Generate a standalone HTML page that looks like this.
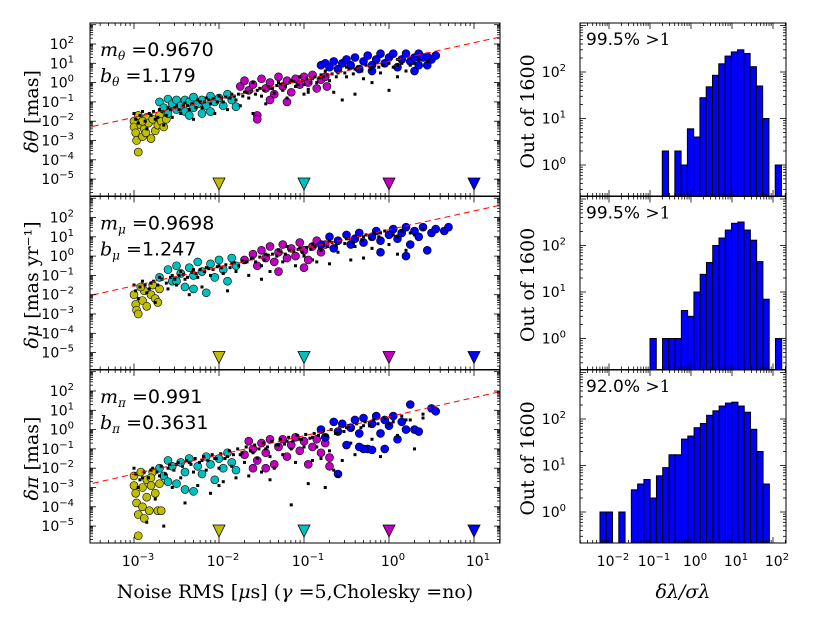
<!DOCTYPE html>
<html><head><meta charset="utf-8"><style>
body{margin:0;background:#fff}
svg{display:block}
text{font-family:"DejaVu Sans","Liberation Sans",sans-serif}
.serif{font-family:"DejaVu Serif","Liberation Serif",serif}
</style></head><body>
<svg id="fig" width="817" height="617" viewBox="0 0 817 617" xmlns="http://www.w3.org/2000/svg"></svg>
<script>
// ---------- data (log10 units) ----------
const fitSlopes = [0.9670, 0.9698, 0.991];
const fitLabels = ["0.9670", "0.9698", "0.991"];
const fitOffsets = ["1.179", "1.247", "0.3631"];
const lineIntercepts = [1.10, 1.37, 0.67];
const markerX = [-2, -1, 0, 1];
const yTickExp = [2, 1, 0, -1, -2, -3, -4, -5];
const xTickExp = [-3, -2, -1, 0, 1];
const histXTickExp = [-2, -1, 0, 1, 2];
const histYTickExp = [0, 1, 2];
const histPct = ["99.5%", "99.5%", "92.0%"];

const thetaYellow = [[-3.0,-2.0],[-3.0,-2.3],[-2.98,-2.6],[-2.97,-3.0],[-2.95,-3.6],[-2.9,-2.8],[-2.92,-2.2],[-2.85,-1.8],[-2.88,-2.4],[-2.8,-2.9],[-2.83,-2.1],[-2.78,-1.9],[-2.75,-2.5],[-2.72,-2.2],[-2.7,-1.7],[-2.68,-2.0],[-2.65,-2.3],[-2.62,-1.9],[-2.95,-1.7],[-2.9,-2.0],[-2.86,-2.6]];
const thetaCyan = [[-2.7,-1.0],[-2.65,-1.3],[-2.6,-0.85],[-2.55,-1.1],[-2.5,-1.4],[-2.5,-0.9],[-2.45,-1.2],[-2.4,-0.9],[-2.4,-1.5],[-2.35,-1.0],[-2.3,-1.3],[-2.3,-0.75],[-2.25,-1.1],[-2.2,-1.6],[-2.2,-0.9],[-2.15,-1.2],[-2.1,-0.7],[-2.1,-1.5],[-2.05,-1.0],[-2.0,-0.8],[-1.95,-1.2],[-1.9,-0.6],[-1.85,-0.9],[-1.8,-1.25],[-2.6,-1.6],[-2.35,-1.7]];
const thetaMagenta = [[-1.75,-0.2],[-1.7,0.1],[-1.65,-0.4],[-1.6,-0.1],[-1.5,0.2],[-1.45,-0.3],[-1.4,0.0],[-1.35,-0.6],[-1.3,0.3],[-1.25,-0.2],[-1.2,0.1],[-1.15,-0.5],[-1.1,0.2],[-1.05,-0.1],[-1.0,0.3],[-0.95,0.0],[-0.9,0.4],[-0.85,-0.3],[-0.8,0.15],[-0.75,0.3],[-1.4,-0.9],[-1.2,-1.0],[-1.55,-1.7],[-1.55,-1.9],[-0.73,-0.2]];
const thetaBlue = [[-0.8,0.9],[-0.75,1.0],[-0.7,0.8],[-0.65,1.1],[-0.6,0.7],[-0.55,1.0],[-0.5,1.2],[-0.45,0.9],[-0.4,1.3],[-0.35,0.7],[-0.3,1.1],[-0.25,1.4],[-0.2,0.9],[-0.15,1.2],[-0.1,1.5],[-0.05,1.0],[0.0,1.3],[0.05,1.5],[0.1,0.8],[0.15,1.2],[0.2,1.5],[0.25,1.1],[0.3,1.3],[0.35,1.5],[0.3,0.6],[0.35,0.9],[0.4,1.3],[0.5,1.2],[0.45,0.9],[0.55,1.4],[0.45,1.35],[-0.2,0.6]];
const thetaBlack = [[-3.0,-1.6],[-2.95,-2.1],[-2.9,-1.5],[-2.85,-2.4],[-2.8,-1.7],[-2.75,-1.9],[-2.7,-1.4],[-2.65,-2.2],[-2.6,-1.3],[-2.55,-1.8],[-2.5,-1.2],[-2.45,-1.6],[-2.4,-1.05],[-2.35,-1.4],[-2.3,-1.9],[-2.25,-0.9],[-2.2,-1.3],[-2.15,-0.8],[-2.1,-1.1],[-2.05,-1.6],[-2.0,-0.7],[-1.95,-1.0],[-1.9,-1.4],[-1.85,-0.6],[-1.8,-0.9],[-1.75,-1.2],[-1.7,-0.5],[-1.65,-0.8],[-1.6,-1.6],[-1.55,-0.4],[-1.5,-0.7],[-1.45,-1.1],[-1.4,-0.3],[-1.35,-0.55],[-1.3,0.0],[-1.25,-0.4],[-1.2,-0.8],[-1.15,0.1],[-1.1,-0.2],[-1.05,0.3],[-1.0,-0.1],[-0.95,-0.5],[-0.9,0.2],[-0.85,0.0],[-0.8,0.4],[-0.75,0.6],[-0.7,0.1],[-0.65,-0.5],[-0.6,0.5],[-0.55,-0.9],[-0.5,0.3],[-0.4,0.7],[-0.3,0.2],[-0.2,0.8],[-0.1,0.5],[0.0,-0.4],[0.1,0.9],[0.2,0.6],[0.3,1.0],[-0.2,0.0],[-1.0,-0.6],[-1.6,0.0],[0.1,1.2],[-0.5,0.8],
[-2.98,-1.9],[-2.93,-1.7],[-2.87,-2.0],[-2.82,-1.6],[-2.77,-1.5],[-2.72,-1.8],[-2.67,-1.5],[-2.62,-1.7],[-2.57,-1.4],[-2.52,-1.3],[-2.47,-1.4],[-2.42,-1.2],[-2.37,-1.2],[-2.32,-1.1],[-2.27,-1.3],[-2.22,-1.0],[-2.17,-1.0],[-2.12,-0.9],[-2.07,-0.85],[-2.02,-1.0],[-1.97,-0.8],[-1.92,-0.75],[-1.87,-0.8],[-1.82,-0.7],[-1.77,-0.6],[-1.72,-0.7],[-1.67,-0.5],[-1.62,-0.45],[-1.57,-0.6],[-1.52,-0.3],[-1.47,-0.4],[-1.42,-0.2],[-1.37,-0.3],[-1.32,-0.15],[-1.27,-0.1],[-1.22,-0.2],[-1.17,0.0],[-1.12,0.05],[-1.07,-0.1],[-1.02,0.1],[-0.97,0.2],[-0.92,0.0],[-0.87,0.3],[-0.82,0.25],[-0.77,0.3],[-0.72,0.4],[-0.67,0.45],[-0.62,0.3],[-0.57,0.6],[-0.52,0.5],[-0.47,0.7],[-0.42,0.45],[-0.37,0.8],[-0.32,0.6],[-0.27,0.9],[-0.22,0.7],[-0.17,1.0],[-0.12,0.8],[-0.07,0.9],[0.0,1.0],[0.05,0.8],[0.15,1.0],[0.25,0.9],[0.35,1.2],[0.45,1.1],[-0.95,-0.35],[-0.4,-0.6],[0.1,0.3]];

const muYellow = [[-3.0,-2.0],[-2.98,-2.5],[-2.97,-2.8],[-2.95,-3.0],[-2.9,-2.3],[-2.88,-1.8],[-2.85,-2.6],[-2.8,-2.0],[-2.78,-1.5],[-2.75,-2.2],[-2.7,-1.7],[-2.72,-2.4],[-2.92,-1.6]];
const muCyan = [[-2.7,-1.1],[-2.6,-0.7],[-2.55,-1.3],[-2.5,-0.5],[-2.45,-0.9],[-2.4,-1.6],[-2.35,-0.6],[-2.3,-1.0],[-2.25,-0.3],[-2.2,-0.8],[-2.15,-1.9],[-2.1,-0.4],[-2.05,-1.1],[-2.0,-0.2],[-1.95,-0.7],[-1.9,-1.3],[-1.85,-0.1],[-1.8,-0.5],[-2.3,-1.7],[-2.5,-1.3]];
const muMagenta = [[-1.7,-0.2],[-1.6,0.1],[-1.55,-0.5],[-1.5,0.3],[-1.45,-0.1],[-1.4,0.5],[-1.35,-0.3],[-1.3,0.2],[-1.25,0.6],[-1.2,-0.1],[-1.15,0.4],[-1.1,0.0],[-1.05,0.7],[-1.0,0.3],[-0.95,-0.2],[-0.9,0.5],[-0.85,0.8],[-0.8,0.2],[-0.75,0.6],[-1.3,-0.8],[-1.0,-0.6]];
const muBlue = [[-0.8,0.6],[-0.7,1.0],[-0.65,0.4],[-0.6,0.8],[-0.5,1.1],[-0.45,0.6],[-0.4,0.9],[-0.35,1.2],[-0.3,0.7],[-0.2,1.0],[-0.15,1.3],[-0.1,0.8],[0.0,1.1],[0.05,1.4],[0.1,0.9],[0.15,1.2],[0.2,1.5],[0.25,0.6],[0.3,1.3],[0.35,1.0],[0.4,1.5],[0.45,0.3],[0.5,1.2],[0.55,1.4],[0.65,1.3],[0.7,1.5],[-0.1,0.2],[0.2,0.0]];
const muBlack = [[-3.0,-1.5],[-2.95,-2.2],[-2.9,-1.3],[-2.85,-1.9],[-2.8,-1.4],[-2.75,-2.4],[-2.7,-1.1],[-2.6,-1.7],[-2.55,-1.0],[-2.5,-1.5],[-2.45,-0.8],[-2.4,-1.2],[-2.35,-2.0],[-2.3,-0.7],[-2.25,-1.1],[-2.2,-1.6],[-2.15,-0.6],[-2.1,-1.0],[-2.0,-0.5],[-1.95,-0.9],[-1.9,-1.8],[-1.85,-0.4],[-1.8,-0.8],[-1.7,-0.3],[-1.65,-1.0],[-1.6,-0.1],[-1.5,-0.5],[-1.45,0.1],[-1.4,-0.8],[-1.3,0.3],[-1.25,-0.3],[-1.2,0.5],[-1.1,-0.5],[-1.05,0.4],[-1.0,0.0],[-0.9,0.6],[-0.85,-0.3],[-0.8,0.3],[-0.7,0.8],[-0.6,0.2],[-0.5,0.9],[-0.45,-0.2],[-0.4,0.5],[-0.3,1.0],[-0.2,0.4],[-0.1,1.2],[0.0,0.6],[0.1,1.0],[0.2,0.3],[0.3,1.1],[-0.7,-0.4],[-1.5,-1.2],
[-2.98,-1.8],[-2.93,-1.6],[-2.87,-1.5],[-2.82,-1.7],[-2.77,-1.3],[-2.72,-1.5],[-2.67,-1.2],[-2.62,-1.4],[-2.57,-1.1],[-2.52,-1.2],[-2.47,-1.0],[-2.42,-0.95],[-2.37,-1.1],[-2.32,-0.85],[-2.27,-0.9],[-2.22,-0.7],[-2.17,-0.8],[-2.12,-0.65],[-2.07,-0.7],[-2.02,-0.55],[-1.97,-0.6],[-1.92,-0.45],[-1.87,-0.6],[-1.82,-0.35],[-1.77,-0.5],[-1.72,-0.25],[-1.67,-0.3],[-1.62,-0.15],[-1.57,-0.3],[-1.52,-0.05],[-1.47,-0.2],[-1.42,0.05],[-1.37,0.1],[-1.32,0.0],[-1.27,0.2],[-1.22,0.1],[-1.17,0.3],[-1.12,0.25],[-1.07,0.35],[-1.02,0.2],[-0.97,0.45],[-0.92,0.35],[-0.87,0.5],[-0.82,0.4],[-0.77,0.6],[-0.72,0.5],[-0.67,0.7],[-0.62,0.55],[-0.57,0.8],[-0.52,0.65],[-0.47,0.9],[-0.42,0.7],[-0.37,1.0],[-0.32,0.85],[-0.27,1.1],[-0.22,0.9],[-0.17,1.2],[-0.12,1.0],[-0.05,1.3],[0.05,1.1],[0.15,1.3],[0.25,1.2],[0.4,1.4],[-0.9,-0.2],[-0.3,-0.1],[0.1,0.1]];

const piYellow = [[-3.0,-2.4],[-3.0,-2.9],[-2.98,-3.3],[-2.97,-3.8],[-2.95,-4.4],[-2.95,-5.5],[-2.92,-2.2],[-2.9,-3.0],[-2.9,-4.0],[-2.88,-4.6],[-2.85,-2.6],[-2.85,-3.5],[-2.82,-4.2],[-2.8,-2.9],[-2.78,-2.2],[-2.75,-3.3],[-2.72,-4.2],[-2.7,-2.8],[-2.68,-4.2],[-2.8,-2.5]];
const piCyan = [[-2.7,-2.0],[-2.65,-2.4],[-2.6,-1.6],[-2.55,-1.9],[-2.5,-2.8],[-2.45,-1.7],[-2.4,-2.2],[-2.35,-1.5],[-2.3,-3.2],[-2.25,-1.9],[-2.2,-2.3],[-2.15,-1.4],[-2.1,-1.8],[-2.05,-2.6],[-2.0,-1.5],[-1.95,-2.0],[-1.9,-1.2],[-1.85,-1.7],[-1.8,-2.1],[-2.4,-3.1],[-2.6,-2.7]];
const piMagenta = [[-1.7,-1.3],[-1.65,-0.6],[-1.6,-1.0],[-1.55,-1.6],[-1.5,-0.7],[-1.45,-1.2],[-1.4,-0.5],[-1.35,-1.8],[-1.3,-0.9],[-1.25,-0.5],[-1.2,-1.4],[-1.15,-0.8],[-1.1,-0.4],[-1.05,-1.1],[-1.0,-0.6],[-0.95,-1.8],[-0.9,-0.9],[-0.85,-0.5],[-0.8,-1.2],[-0.75,-0.7],[-1.6,-2.0],[-1.45,-2.0],[-0.7,-1.9],[-0.7,-1.45]];
const piBlue = [[-0.8,0.0],[-0.75,-0.4],[-0.65,0.4],[-0.6,-0.1],[-0.55,0.3],[-0.5,-0.8],[-0.45,0.1],[-0.4,0.5],[-0.35,-0.2],[-0.3,0.6],[-0.25,-1.0],[-0.2,0.3],[-0.15,0.7],[-0.1,-0.2],[-0.05,0.5],[0.0,0.2],[0.05,0.7],[0.1,-0.5],[0.15,0.4],[0.2,0.0],[0.25,1.3],[0.3,0.0],[0.35,-0.1],[0.5,1.1],[0.55,0.95],[-0.6,-2.3],[-0.3,-1.0],[-0.35,-0.9],[-0.05,-1.0],[-0.2,-1.05]];
const piBlack = [[-3.0,-2.0],[-2.95,-3.0],[-2.9,-2.5],[-2.85,-4.8],[-2.8,-2.1],[-2.75,-3.6],[-2.7,-2.4],[-2.65,-5.0],[-2.6,-2.0],[-2.55,-3.0],[-2.5,-1.8],[-2.45,-2.5],[-2.4,-3.8],[-2.35,-1.7],[-2.3,-2.2],[-2.25,-2.9],[-2.2,-1.6],[-2.15,-2.1],[-2.1,-3.3],[-2.05,-1.5],[-2.0,-2.0],[-1.95,-2.7],[-1.9,-1.4],[-1.85,-1.9],[-1.8,-2.5],[-1.75,-1.3],[-1.7,-1.7],[-1.65,-2.4],[-1.6,-1.2],[-1.55,-1.5],[-1.5,-2.2],[-1.45,-1.0],[-1.4,-1.4],[-1.35,-2.0],[-1.3,-0.8],[-1.25,-1.3],[-1.2,-0.6],[-1.15,-1.0],[-1.1,-1.7],[-1.05,-0.5],[-1.0,-0.9],[-0.95,-2.8],[-0.9,-0.4],[-0.85,-0.9],[-0.8,-1.5],[-0.75,-0.3],[-0.7,-1.1],[-0.65,-2.1],[-0.6,-0.2],[-0.55,-1.6],[-0.5,0.1],[-0.45,-0.7],[-0.4,-1.3],[-0.3,0.2],[-0.2,-0.5],[-0.1,-1.4],[0.0,0.3],[0.1,-0.3],[0.2,0.5],[0.3,-1.0],[0.4,0.6],[-1.15,-3.9],[-0.6,-2.4],[-0.75,-3.0],
[-2.98,-2.3],[-2.93,-2.6],[-2.88,-2.2],[-2.83,-2.5],[-2.78,-2.0],[-2.73,-2.2],[-2.68,-1.9],[-2.63,-2.3],[-2.58,-1.8],[-2.53,-2.1],[-2.48,-1.7],[-2.43,-1.9],[-2.38,-1.6],[-2.33,-1.8],[-2.28,-1.5],[-2.23,-1.7],[-2.18,-1.4],[-2.13,-1.6],[-2.08,-1.3],[-2.03,-1.5],[-1.98,-1.25],[-1.93,-1.5],[-1.88,-1.1],[-1.83,-1.3],[-1.78,-1.0],[-1.73,-1.2],[-1.68,-0.9],[-1.63,-1.1],[-1.58,-0.8],[-1.53,-1.0],[-1.48,-0.7],[-1.43,-0.9],[-1.38,-0.6],[-1.33,-0.8],[-1.28,-0.5],[-1.23,-0.75],[-1.18,-0.4],[-1.13,-0.6],[-1.08,-0.3],[-1.03,-0.5],[-0.98,-0.25],[-0.93,-0.45],[-0.88,-0.2],[-0.83,-0.3],[-0.78,-0.1],[-0.73,-0.3],[-0.68,0.0],[-0.63,-0.2],[-0.58,0.1],[-0.53,-0.1],[-0.48,0.2],[-0.43,0.0],[-0.38,0.3],[-0.33,0.1],[-0.28,0.4],[-0.23,0.2],[-0.18,0.5],[-0.13,0.3],[-0.05,0.6],[0.05,0.4],[0.15,0.7],[0.25,0.5],[0.4,0.8],[-2.0,-2.9],[-1.4,-2.6],[-0.9,-1.6]];

const histStart = [-0.70, -1.00, -2.22];
const histWidth = 0.153;
const histCountsTheta = [2,0,2,1,6,4,28,48,85,150,220,270,300,250,130,50,10,0,1];
const histCountsMu = [1,0,1,1,1,4,3,10,24,43,100,145,215,300,320,215,130,45,7,0,1];
const histCountsPi = [1,1,0,1,0,3,4,5,2,6,9,17,17,37,43,65,80,120,150,190,220,230,190,140,60,20,4];

const panels = [
  {yl:"δθ", sub:"θ", unit:"[mas]", yellow:thetaYellow, cyan:thetaCyan, magenta:thetaMagenta, blue:thetaBlue, black:thetaBlack, hist:histCountsTheta},
  {yl:"δμ", sub:"μ", unit:"[mas yr⁻¹]", yellow:muYellow, cyan:muCyan, magenta:muMagenta, blue:muBlue, black:muBlack, hist:histCountsMu},
  {yl:"δπ", sub:"π", unit:"[mas]", yellow:piYellow, cyan:piCyan, magenta:piMagenta, blue:piBlue, black:piBlack, hist:histCountsPi}
];

// ---------- geometry ----------
const NS = "http://www.w3.org/2000/svg";
const svg = document.getElementById("fig");
const L = {x0:90, x1:500};
const R = {x0:580, x1:786};
const tops = [23, 196.5, 370];
const PH = 173;
const sx = lx => 134 + (lx + 3) * 85;
const sy = (i, ly) => tops[i] + 21 + (2 - ly) * 19.3;
const hx = lx => 609 + (lx + 2) * 41;
const hy = (i, ly) => tops[i] + 49 + (2 - ly) * 46.5;

function el(tag, attrs, parent) {
  const e = document.createElementNS(NS, tag);
  for (const k in attrs) e.setAttribute(k, attrs[k]);
  (parent || svg).appendChild(e);
  return e;
}
function supText(x, y, base, exp, anchor, g) {
  const t = el("text", {x:x, y:y, "font-size":14, "text-anchor":anchor, fill:"#000"}, g);
  const b = document.createElementNS(NS, "tspan"); b.textContent = base; t.appendChild(b);
  const s = document.createElementNS(NS, "tspan"); s.setAttribute("dy", -6); s.setAttribute("font-size", 10); s.textContent = exp; t.appendChild(s);
  return t;
}
function logTicksX(g, x0, x1, y0, y1, fx, lo, hi) {
  for (let d = lo; d <= hi; d++) for (let k = 1; k <= 9; k++) {
    const lx = d + Math.log10(k); const px = fx(lx);
    if (px < x0 || px > x1) continue;
    const len = k === 1 ? 6 : 3;
    el("line", {x1:px, x2:px, y1:y1, y2:y1 - len, stroke:"#000", "stroke-width":0.8}, g);
    el("line", {x1:px, x2:px, y1:y0, y2:y0 + len, stroke:"#000", "stroke-width":0.8}, g);
  }
}
function logTicksY(g, x0, x1, y0, y1, fy, lo, hi) {
  for (let d = lo; d <= hi; d++) for (let k = 1; k <= 9; k++) {
    const ly = d + Math.log10(k); const py = fy(ly);
    if (py < y0 || py > y1) continue;
    const len = k === 1 ? 6 : 3;
    el("line", {x1:x0, x2:x0 + len, y1:py, y2:py, stroke:"#000", "stroke-width":0.8}, g);
    el("line", {x1:x1, x2:x1 - len, y1:py, y2:py, stroke:"#000", "stroke-width":0.8}, g);
  }
}

const colors = {yellow:"#bfbf00", cyan:"#00bfbf", magenta:"#bf00bf", blue:"#0000ff"};
const triColors = [colors.yellow, colors.cyan, colors.magenta, colors.blue];

panels.forEach((p, i) => {
  const T = tops[i], B = T + PH;
  const g = el("g", {});
  
  
  const clipId = "c" + i;
  const cp = el("clipPath", {id:clipId}, g);
  el("rect", {x:L.x0, y:T, width:L.x1 - L.x0, height:PH}, cp);
  const pg = el("g", {"clip-path":"url(#" + clipId + ")"}, g);
  ["yellow", "cyan", "magenta", "blue"].forEach(c => {
    p[c].forEach(pt => {
      const ci = el("circle", {cx:sx(pt[0]), cy:sy(i, pt[1]), r:4, fill:colors[c], stroke:"#000", "stroke-width":0.6}, pg);
      
      
    });
  });
  p.black.forEach(pt => {
    const r = el("rect", {x:sx(pt[0]) - 1.5, y:sy(i, pt[1]) - 1.5, width:3, height:3, fill:"#000"}, pg);
    
    
  });
  const lxa = -3.6, lxb = 1.4;
  const fl = el("line", {x1:sx(lxa), y1:sy(i, fitSlopes[i] * lxa + lineIntercepts[i]), x2:sx(lxb), y2:sy(i, fitSlopes[i] * lxb + lineIntercepts[i]), stroke:"#ff0000", "stroke-width":1, "stroke-dasharray":"6,4"}, pg);
  
  
  markerX.forEach((mx, k) => {
    const x = sx(mx), y = B - 12;
    const tr = el("polygon", {points:(x - 6) + "," + (y - 6) + " " + (x + 6) + "," + (y - 6) + " " + x + "," + (y + 6), fill:triColors[k], stroke:"#000", "stroke-width":0.8}, g);
    
    
  });
  el("rect", {x:L.x0, y:T, width:L.x1 - L.x0, height:PH, fill:"none", stroke:"#000", "stroke-width":1}, g);
  logTicksX(g, L.x0, L.x1, T, B, sx, -4, 1);
  logTicksY(g, L.x0, L.x1, T, B, ly => sy(i, ly), -6, 3);
  yTickExp.forEach(e => {
    const t = supText(L.x0 - 16, sy(i, e) + 5, "10", e < 0 ? "−" + (-e) : String(e), "end", g);
    
    
  });
  const a1 = el("text", {x:100, y:T + 33, "font-size":19, fill:"#000"}, g);
  a1.innerHTML = '<tspan class="serif" font-style="italic">m</tspan><tspan class="serif" font-style="italic" font-size="12" dy="4">' + p.sub + '</tspan><tspan dy="-4" class="serif"> =</tspan><tspan>' + fitLabels[i] + '</tspan>';
  
  
  const a2 = el("text", {x:100, y:T + 59, "font-size":19, fill:"#000"}, g);
  a2.innerHTML = '<tspan class="serif" font-style="italic">b</tspan><tspan class="serif" font-style="italic" font-size="12" dy="4">' + p.sub + '</tspan><tspan dy="-4" class="serif"> =</tspan><tspan>' + fitOffsets[i] + '</tspan>';
  
  
  const yl = el("text", {x:0, y:0, "font-size":19, "text-anchor":"middle", class:"serif", transform:"translate(38," + (T + PH / 2 + 2) + ") rotate(-90)"}, g);
  yl.innerHTML = '<tspan font-style="italic">' + p.yl + '</tspan> ' + p.unit;
  
  

  const h = el("g", {});
  
  
  p.hist.forEach((c, k) => {
    if (c <= 0) return;
    const xa = hx(histStart[i] + k * histWidth), xb = hx(histStart[i] + (k + 1) * histWidth);
    const top = Math.max(T, hy(i, Math.log10(c)));
    const b = el("rect", {x:xa, y:top, width:xb - xa, height:B - top, fill:"#0000ff", stroke:"#000", "stroke-width":1}, h);
    
    
  });
  el("rect", {x:R.x0, y:T, width:R.x1 - R.x0, height:PH, fill:"none", stroke:"#000", "stroke-width":1}, h);
  logTicksX(h, R.x0, R.x1, T, B, hx, -3, 2);
  logTicksY(h, R.x0, R.x1, T, B, ly => hy(i, ly), -1, 3);
  histYTickExp.forEach(e => {
    const t = supText(R.x0 - 14, hy(i, e) + 5, "10", String(e), "end", h);
    
    
  });
  const pc = el("text", {x:586, y:T + 22, "font-size":17, fill:"#000"}, h);
  pc.innerHTML = histPct[i] + '<tspan class="serif"> &gt;1</tspan>';
  
  
  const hl = el("text", {x:0, y:0, "font-size":19, "text-anchor":"middle", class:"serif", transform:"translate(534," + (T + PH / 2 + 2) + ") rotate(-90)"}, h);
  hl.textContent = "Out of 1600";
  
  
});

xTickExp.forEach(e => {
  const t = supText(sx(e) + 4, 566, "10", e < 0 ? "−" + (-e) : String(e), "middle");
  
  
});
histXTickExp.forEach(e => {
  const t = supText(hx(e) + 4, 566, "10", e < 0 ? "−" + (-e) : String(e), "middle");
  
  
});
const xt = el("text", {x:295, y:598, "font-size":19, "text-anchor":"middle", class:"serif"});
xt.innerHTML = 'Noise RMS [<tspan font-style="italic">μ</tspan>s] (<tspan font-style="italic">γ</tspan> =5,Cholesky =no)';


const hxt = el("text", {x:683, y:598, "font-size":19, "text-anchor":"middle", class:"serif", "font-style":"italic"});
hxt.textContent = "δλ/σλ";


</script>
</body></html>
